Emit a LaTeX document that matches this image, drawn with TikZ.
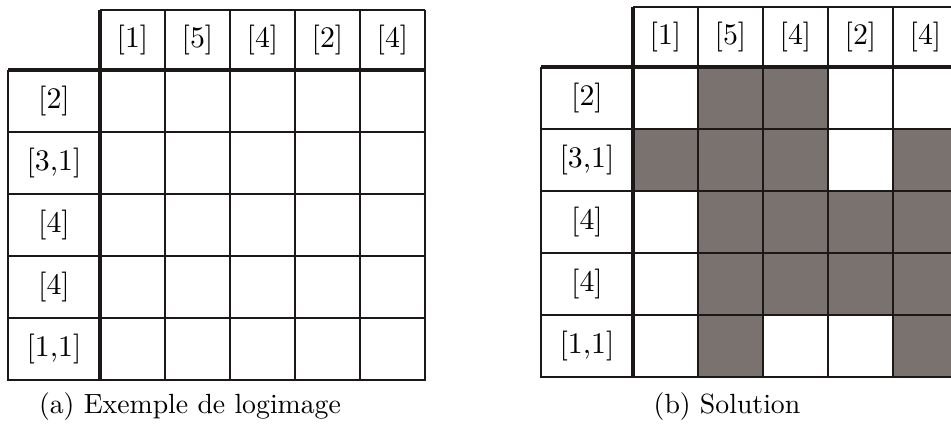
\documentclass[tikz,border=0pt]{standalone}
\definecolor{shade}{RGB}{122,114,111}
\definecolor{ink}{RGB}{28,24,24}
\begin{document}
\begin{tikzpicture}[x=0.02cm,y=-0.02cm,
    clue/.style={font=\fontsize{10}{12}\selectfont,scale=1.7},
    caption/.style={font=\fontsize{10}{12}\selectfont,scale=1.58},
    gridline/.style={draw=ink,line width=0.8pt},
    heavyline/.style={draw=ink,line width=2.4pt},
    blackcell/.style={fill=shade}]
  \useasboundingbox (0,0) rectangle (951,430);
  \clip (0,0) rectangle (951,430);

  % puzzle
  \begin{scope}[shift={(8,10)}]
    \foreach \i in {1,...,5}
      \draw[gridline] ({92+65*\i},0) -- ({92+65*\i},371);
    \foreach \j in {1,...,5}
      \draw[gridline] (0,{60+62*\j}) -- (417,{60+62*\j});
    \draw[gridline] (92,0) -- (417,0);
    \draw[gridline] (0,60) -- (0,371);
    \draw[heavyline] (92,0) -- (92,371);
    \draw[heavyline] (0,60) -- (417,60);
    \foreach \txt [count=\i] in {{[1]},{[5]},{[4]},{[2]},{[4]}}
      \node[clue] (a-col\i) at ({92+65*(\i-0.5)},30) {\txt};
    \foreach \txt [count=\j] in {{[2]},{[3,1]},{[4]},{[4]},{[1,1]}}
      \node[clue] (a-row\j) at (46,{60+62*(\j-0.5)}) {\txt};
  \end{scope}
  \node[caption] (a-caption) at (190,407) {(a) Exemple de logimage};

  % solution
  \begin{scope}[shift={(541,7)}]
    \foreach \r/\c in {1/2,1/3,2/1,2/2,2/3,2/5,3/2,3/3,3/4,3/5,
                       4/2,4/3,4/4,4/5,5/2,5/5}
      \fill[blackcell] ({92+65*(\c-1)},{60+62*(\r-1)}) rectangle ++(65,62);
    \foreach \i in {1,...,5}
      \draw[gridline] ({92+65*\i},0) -- ({92+65*\i},371);
    \foreach \j in {1,...,5}
      \draw[gridline] (0,{60+62*\j}) -- (417,{60+62*\j});
    \draw[gridline] (92,0) -- (417,0);
    \draw[gridline] (0,60) -- (0,371);
    \draw[heavyline] (92,0) -- (92,371);
    \draw[heavyline] (0,60) -- (417,60);
    \foreach \txt [count=\i] in {{[1]},{[5]},{[4]},{[2]},{[4]}}
      \node[clue] (b-col\i) at ({92+65*(\i-0.5)},30) {\txt};
    \foreach \txt [count=\j] in {{[2]},{[3,1]},{[4]},{[4]},{[1,1]}}
      \node[clue] (b-row\j) at (46,{60+62*(\j-0.5)}) {\txt};
  \end{scope}
  \node[caption] (b-caption) at (727,407) {(b) Solution};
\end{tikzpicture}
\end{document}
